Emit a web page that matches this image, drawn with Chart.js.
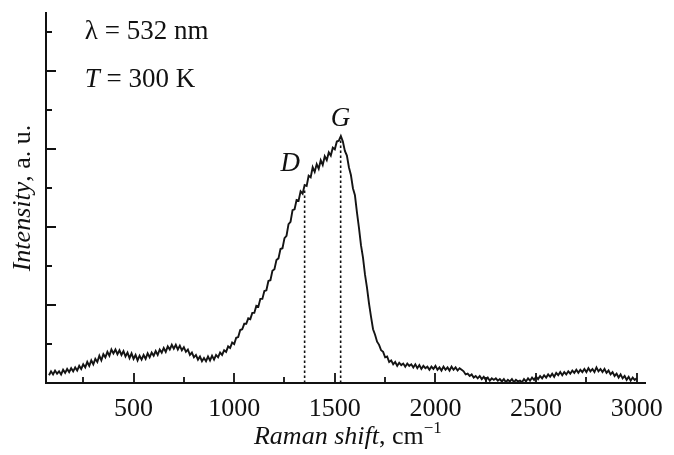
<!DOCTYPE html>
<html>
<head>
<meta charset="utf-8">
<title>Raman spectrum</title>
<script src="https://cdn.jsdelivr.net/npm/chart.js@4.4.1/dist/chart.umd.min.js"></script>
<style>
  html, body { margin: 0; padding: 0; background: #fff; }
  canvas { display: block; }
</style>
</head>
<body>
<canvas id="ramanChart" width="674" height="455"></canvas>
<script>
// spectrum sampled every 10 cm-1 starting at 80 cm-1
const SHIFT_START = 80;
const SHIFT_STEP = 10;

const intensity = [
    0.10, 0.15,                                                        // 80-90
    0.11, 0.16, 0.12, 0.15, 0.11, 0.17, 0.13, 0.18, 0.14, 0.19,        // 100
    0.15, 0.20, 0.16, 0.22, 0.18, 0.24, 0.20, 0.27, 0.22, 0.29,        // 200
    0.24, 0.31, 0.27, 0.35, 0.29, 0.37, 0.33, 0.40, 0.35, 0.43,        // 300
    0.38, 0.43, 0.37, 0.42, 0.36, 0.41, 0.34, 0.39, 0.32, 0.38,        // 400
    0.31, 0.36, 0.29, 0.35, 0.30, 0.36, 0.31, 0.38, 0.33, 0.39,        // 500
    0.35, 0.41, 0.36, 0.43, 0.39, 0.45, 0.40, 0.47, 0.43, 0.49,        // 600
    0.44, 0.49, 0.43, 0.48, 0.42, 0.46, 0.40, 0.43, 0.36, 0.39,        // 700
    0.33, 0.36, 0.30, 0.34, 0.28, 0.32, 0.28, 0.34, 0.29, 0.35,        // 800
    0.30, 0.36, 0.33, 0.39, 0.36, 0.42, 0.40, 0.47, 0.45, 0.52,        // 900
    0.50, 0.58, 0.59, 0.68, 0.69, 0.76, 0.76, 0.83, 0.82, 0.90,        // 1000
    0.90, 0.99, 0.98, 1.08, 1.08, 1.18, 1.19, 1.31, 1.32, 1.44,        // 1100
    1.46, 1.58, 1.60, 1.72, 1.73, 1.86, 1.89, 2.04, 2.07, 2.22,        // 1200
    2.23, 2.35, 2.34, 2.46, 2.43, 2.54, 2.53, 2.66, 2.64, 2.77,        // 1300
    2.71, 2.81, 2.75, 2.86, 2.80, 2.91, 2.86, 2.96, 2.92, 3.02,        // 1400
    3.00, 3.10, 3.11, 3.17, 3.10, 2.98, 2.92, 2.77, 2.67, 2.50,        // 1500
    2.41, 2.19, 1.99, 1.77, 1.61, 1.39, 1.22, 1.02, 0.85, 0.69,        // 1600
    0.62, 0.53, 0.49, 0.42, 0.40, 0.33, 0.34, 0.27, 0.29, 0.24,        // 1700
    0.27, 0.22, 0.26, 0.23, 0.25, 0.21, 0.25, 0.22, 0.24, 0.20,        // 1800
    0.24, 0.19, 0.23, 0.18, 0.22, 0.19, 0.21, 0.17, 0.21, 0.18,        // 1900
    0.22, 0.17, 0.20, 0.16, 0.21, 0.17, 0.20, 0.16, 0.21, 0.17,        // 2000
    0.20, 0.16, 0.19, 0.17, 0.15, 0.11, 0.12, 0.09, 0.11, 0.07,        // 2100
    0.09, 0.06, 0.09, 0.05, 0.08, 0.04, 0.07, 0.03, 0.06, 0.04,        // 2200
    0.06, 0.03, 0.05, 0.02, 0.05, 0.01, 0.04, 0.02, 0.05, 0.01,        // 2300
    0.04, 0.02, 0.03, 0.01, 0.05, 0.02, 0.06, 0.03, 0.07, 0.04,        // 2400
    0.08, 0.05, 0.09, 0.06, 0.10, 0.07, 0.11, 0.08, 0.12, 0.08,        // 2500
    0.13, 0.10, 0.14, 0.10, 0.14, 0.11, 0.15, 0.12, 0.16, 0.13,        // 2600
    0.17, 0.13, 0.17, 0.14, 0.18, 0.14, 0.19, 0.15, 0.18, 0.14,        // 2700
    0.20, 0.15, 0.18, 0.14, 0.18, 0.13, 0.16, 0.11, 0.14, 0.09,        // 2800
    0.12, 0.07, 0.11, 0.06, 0.09, 0.04, 0.08, 0.03, 0.07, 0.04,        // 2900
    0.06                                                               // 3000
];

// D and G band markers (dotted lines)
const peakNames = ["D", "G"];
const peakShifts = [1350, 1529];
const peakTops = [2.47, 3.12];

const xTicks = [250, 500, 750, 1000, 1250, 1500, 1750, 2000, 2250, 2500, 2750, 3000];
const xLabelStep = 500;
const yTicks = [0.5, 1, 1.5, 2, 2.5, 3, 3.5, 4, 4.5];

const SERIF = "'Liberation Serif', 'DejaVu Serif', serif";

const spectrum = intensity.map((v, i) => ({ x: SHIFT_START + i * SHIFT_STEP, y: v }));

const peakDatasets = peakShifts.map((s, i) => ({
    label: peakNames[i],
    data: [{ x: s, y: 0 }, { x: s, y: peakTops[i] }],
    borderColor: "#111",
    borderWidth: 1.6,
    borderDash: [2.5, 2.5],
    pointRadius: 0
}));

// inward tick marks + all text drawn on top
const decorPlugin = {
    id: "decor",
    afterDraw(chart) {
        const ctx = chart.ctx;
        const xs = chart.scales.x;
        const ys = chart.scales.y;
        const area = chart.chartArea;

        ctx.save();
        ctx.strokeStyle = "#111";
        ctx.lineWidth = 1.8;
        ctx.beginPath();
        xTicks.forEach(v => {
            const px = Math.round(xs.getPixelForValue(v));
            const len = v % xLabelStep === 0 ? 10 : 6;
            ctx.moveTo(px, area.bottom);
            ctx.lineTo(px, area.bottom - len);
        });
        yTicks.forEach(v => {
            const py = Math.round(ys.getPixelForValue(v));
            const len = Number.isInteger(v) ? 10 : 6;
            ctx.moveTo(area.left, py);
            ctx.lineTo(area.left + len, py);
        });
        ctx.stroke();

        ctx.fillStyle = "#111";
        ctx.textBaseline = "alphabetic";

        // conditions
        drawRuns(ctx, xs.getPixelForValue(258), ys.getPixelForValue(4.42), [
            { t: "λ = 532 nm", size: 27 }
        ]);
        drawRuns(ctx, xs.getPixelForValue(258), ys.getPixelForValue(3.80), [
            { t: "T", size: 27, italic: true },
            { t: " = 300 K", size: 27 }
        ]);

        // band labels
        ctx.textAlign = "center";
        ctx.font = "italic 27px " + SERIF;
        ctx.fillText(peakNames[0], xs.getPixelForValue(1279), ys.getPixelForValue(2.72));
        ctx.fillText(peakNames[1], xs.getPixelForValue(1528), ys.getPixelForValue(3.30));
        ctx.textAlign = "left";

        // x title
        const xRuns = [
            { t: "Raman shift", size: 26, italic: true },
            { t: ", cm", size: 26 },
            { t: "\u22121", size: 17, dy: -11 }
        ];
        const xw = runsWidth(ctx, xRuns);
        drawRuns(ctx, (area.left + area.right) / 2 - xw / 2 + 2, 444, xRuns);

        // y title (rotated)
        const yRuns = [
            { t: "Intensity", size: 26, italic: true },
            { t: ", a. u.", size: 26 }
        ];
        const yw = runsWidth(ctx, yRuns);
        ctx.translate(30, 198);
        ctx.rotate(-Math.PI / 2);
        drawRuns(ctx, -yw / 2, 0, yRuns);
        ctx.restore();
    }
};

function fontFor(r) {
    return (r.italic ? "italic " : "") + r.size + "px " + SERIF;
}

function runsWidth(ctx, runs) {
    let w = 0;
    runs.forEach(r => {
        ctx.font = fontFor(r);
        w += ctx.measureText(r.t).width;
    });
    return w;
}

function drawRuns(ctx, x, y, runs) {
    let cx = x;
    runs.forEach(r => {
        ctx.font = fontFor(r);
        ctx.fillText(r.t, cx, y + (r.dy || 0));
        cx += ctx.measureText(r.t).width;
    });
}

new Chart(document.getElementById("ramanChart"), {
    type: "line",
    data: {
        datasets: [
            {
                label: "Raman",
                data: spectrum,
                borderColor: "#141414",
                borderWidth: 1.9,
                pointRadius: 0,
                tension: 0
            },
            ...peakDatasets
        ]
    },
    options: {
        responsive: false,
        devicePixelRatio: 1,
        animation: false,
        events: [],
        layout: { padding: { top: 13, right: 19, left: 0, bottom: 0 } },
        plugins: {
            legend: { display: false },
            tooltip: { enabled: false }
        },
        scales: {
            x: {
                type: "linear",
                min: 65,
                max: 3045,
                afterBuildTicks: scale => {
                    scale.ticks = xTicks.map(v => ({ value: v }));
                },
                afterFit: scale => { scale.height = 72; },
                grid: { display: false, drawTicks: false },
                border: { display: true, color: "#111", width: 2 },
                ticks: {
                    autoSkip: false,
                    maxRotation: 0,
                    padding: 11,
                    color: "#111",
                    font: { family: SERIF, size: 26 },
                    callback: v => (v % xLabelStep === 0 ? String(v) : "")
                }
            },
            y: {
                min: 0,
                max: 4.75,
                afterBuildTicks: scale => {
                    scale.ticks = yTicks.map(v => ({ value: v }));
                },
                afterFit: scale => { scale.width = 46; },
                grid: { display: false, drawTicks: false },
                border: { display: true, color: "#111", width: 2 },
                ticks: { display: false }
            }
        }
    },
    plugins: [decorPlugin]
});
</script>
</body>
</html>
